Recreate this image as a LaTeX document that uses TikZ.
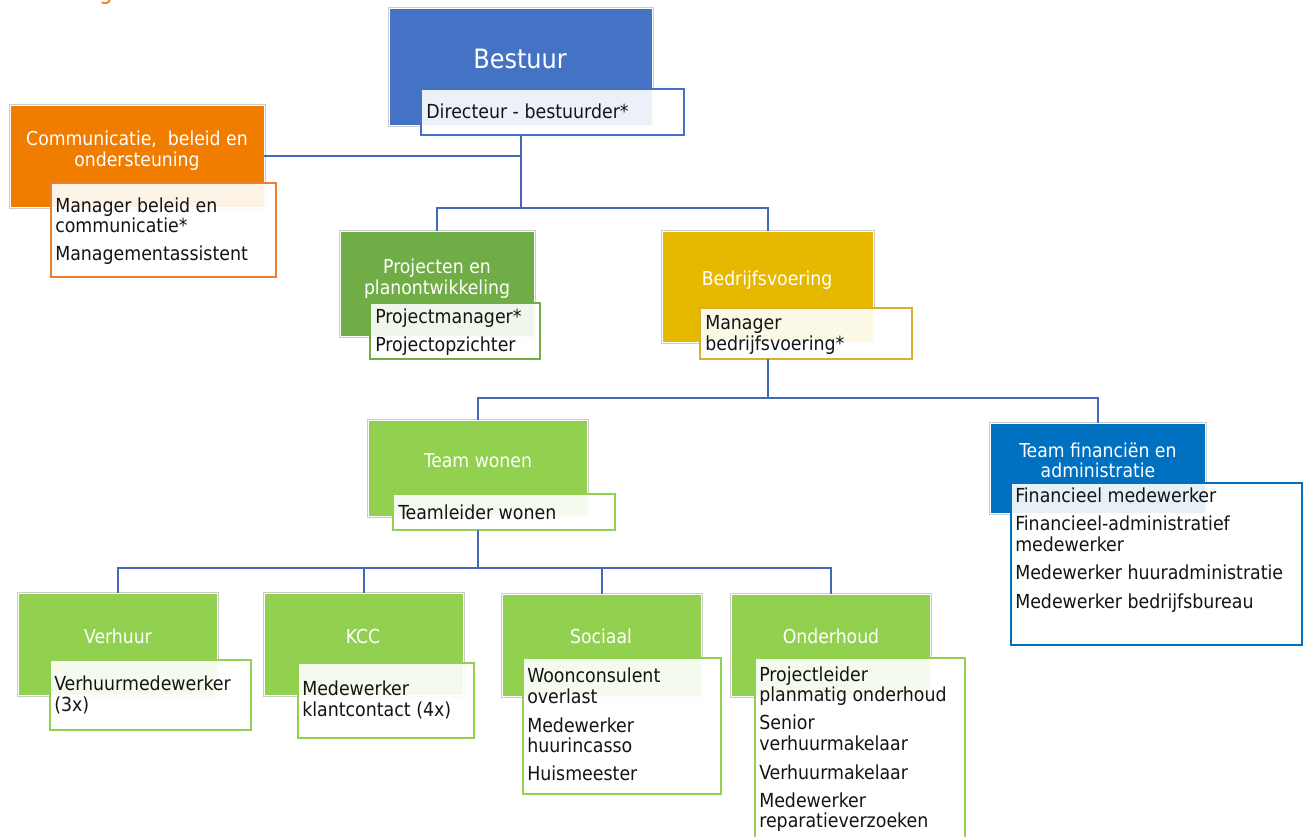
\documentclass[tikz,border=0pt]{standalone}
\usepackage{fontspec}
\setmainfont{DejaVu Sans Condensed}
\usetikzlibrary{fit}
\definecolor{cblue}{HTML}{4472C4}
\definecolor{cline}{HTML}{4169B8}
\definecolor{corange}{HTML}{F07C00}
\definecolor{corangeline}{HTML}{ED7D31}
\definecolor{cgreen}{HTML}{70AD47}
\definecolor{cyellow}{HTML}{E6B800}
\definecolor{cyellowline}{HTML}{D6B032}
\definecolor{clgreen}{HTML}{92D050}
\definecolor{cfin}{HTML}{0070C0}
\definecolor{ctext}{HTML}{141414}
\definecolor{ctitle}{HTML}{EB7A1E}
\begin{document}
\begin{tikzpicture}[x=0.75pt,y=-0.75pt,
  mainbox/.style={fill=#1, inner sep=0pt, outer sep=0pt, draw=white, line width=0.75pt,
    preaction={draw=black!20, line width=2.25pt}},
  subbox/.style={draw=#1, fill=white, fill opacity=0.9, line width=1.5pt, inner sep=0pt, outer sep=0pt},
  head/.style={text=white, font=\fontsize{14.4pt}{16pt}\selectfont, inner sep=0pt, anchor=base},
  bighead/.style={text=white, font=\fontsize{20pt}{22pt}\selectfont, inner sep=0pt, anchor=base},
  item/.style={text=ctext, font=\fontsize{14.5pt}{16pt}\selectfont, inner sep=0pt, anchor=base west},
  conn/.style={draw=cline, line width=1.5pt}]
\useasboundingbox (0,0) rectangle (1307,836);

% cut-off title fragment
\node[text=ctitle, font=\fontsize{18pt}{20pt}\selectfont, anchor=base, inner sep=0pt] (title) at (106,-1) {g};

% Bestuur
\node[mainbox=cblue, fit={(389,8)(652,125)}] (bestuur) {};
\node[subbox=cblue, fit={(421,89)(684,135)}] (dir) {};
\node[bighead] (tbestuur) at (520,68) {Bestuur};
\node[item] (tdir) at (426,118) {Directeur - bestuurder*};

% Communicatie
\node[mainbox=corange, fit={(10,105)(264,207)}] (comm) {};
\node[subbox=corangeline, fit={(51,183)(276,277)}] (commsub) {};
\node[head] (tcomm1) at (137,145) {Communicatie, \ beleid en};
\node[head] (tcomm2) at (137,166) {ondersteuning};
\node[item] (icomm1) at (55,212) {Manager beleid en};
\node[item] (icomm2) at (55,232) {communicatie*};
\node[item] (icomm3) at (55,260) {Managementassistent};

% Projecten
\node[mainbox=cgreen, fit={(340,231)(534,336)}] (proj) {};
\node[subbox=cgreen, fit={(370,303)(540,359)}] (projsub) {};
\node[head] (tproj1) at (437,273) {Projecten en};
\node[head] (tproj2) at (437,294) {planontwikkeling};
\node[item] (iproj1) at (375,323) {Projectmanager*};
\node[item] (iproj2) at (375,351) {Projectopzichter};

% Bedrijfsvoering
\node[mainbox=cyellow, fit={(662,231)(873,342)}] (bedr) {};
\node[subbox=cyellowline, fit={(700,308)(912,359)}] (bedrsub) {};
\node[head] (tbedr) at (767,285) {Bedrijfsvoering};
\node[item] (ibedr1) at (705,329) {Manager};
\node[item] (ibedr2) at (705,350) {bedrijfsvoering*};

% Team wonen
\node[mainbox=clgreen, fit={(368,420)(587,516)}] (wonen) {};
\node[subbox=clgreen, fit={(393,494)(615,530)}] (wonensub) {};
\node[head] (twonen) at (478,467) {Team wonen};
\node[item] (iwonen) at (398,519) {Teamleider wonen};

% Team financien
\node[mainbox=cfin, fit={(990,423)(1205,513)}] (fin) {};
\node[subbox=cfin, fit={(1011,483)(1302,645)}] (finsub) {};
\node[head] (tfin1) at (1098,457) {Team financiën en};
\node[head] (tfin2) at (1098,477) {administratie};
\node[item] (ifin1) at (1015,502) {Financieel medewerker};
\node[item] (ifin2) at (1015,530) {Financieel-administratief};
\node[item] (ifin3) at (1015,551) {medewerker};
\node[item] (ifin4) at (1015,579) {Medewerker huuradministratie};
\node[item] (ifin5) at (1015,608) {Medewerker bedrijfsbureau};

% Verhuur
\node[mainbox=clgreen, fit={(18,593)(217,695)}] (verhuur) {};
\node[subbox=clgreen, fit={(50,660)(251,730)}] (verhuursub) {};
\node[head] (tverhuur) at (118,643) {Verhuur};
\node[item] (iverhuur1) at (54,690) {Verhuurmedewerker};
\node[item] (iverhuur2) at (54,711) {(3x)};

% KCC
\node[mainbox=clgreen, fit={(264,593)(463,695)}] (kcc) {};
\node[subbox=clgreen, fit={(298,663)(474,738)}] (kccsub) {};
\node[head] (tkcc) at (363,643) {KCC};
\node[item] (ikcc1) at (302,695) {Medewerker};
\node[item] (ikcc2) at (302,716) {klantcontact (4x)};

% Sociaal
\node[mainbox=clgreen, fit={(502,594)(701,696)}] (sociaal) {};
\node[subbox=clgreen, fit={(523,658)(721,794)}] (sociaalsub) {};
\node[head] (tsociaal) at (601,643) {Sociaal};
\node[item] (isoc1) at (527,682) {Woonconsulent};
\node[item] (isoc2) at (527,703) {overlast};
\node[item] (isoc3) at (527,732) {Medewerker};
\node[item] (isoc4) at (527,752) {huurincasso};
\node[item] (isoc5) at (527,780) {Huismeester};

% Onderhoud
\node[mainbox=clgreen, fit={(731,594)(930,696)}] (onder) {};
\node[subbox=clgreen, fit={(755,658)(965,850)}] (ondersub) {};
\node[head] (tonder) at (831,643) {Onderhoud};
\node[item] (iond1) at (759,681) {Projectleider};
\node[item] (iond2) at (759,701) {planmatig onderhoud};
\node[item] (iond3) at (759,729) {Senior};
\node[item] (iond4) at (759,750) {verhuurmakelaar};
\node[item] (iond5) at (759,779) {Verhuurmakelaar};
\node[item] (iond6) at (759,807) {Medewerker};
\node[item] (iond7) at (759,827) {reparatieverzoeken};

% connector levels
\coordinate (h2) at (0,208);
\coordinate (h3) at (0,398);
\coordinate (h4) at (0,568);
\coordinate (j1) at (bestuur.south |- comm.east);

\draw[conn] (bestuur.south |- dir.south) -- (j1) -- (comm.east);
\draw[conn] (j1) -- (bestuur.south |- h2);
\draw[conn] (proj.north) -- (proj.north |- h2) -- (bedr.north |- h2) -- (bedr.north);

\draw[conn] (bedr.south |- bedrsub.south) -- (bedr.south |- h3);
\draw[conn] (wonen.north) -- (wonen.north |- h3) -- (fin.north |- h3) -- (fin.north);

\draw[conn] (wonen.south |- wonensub.south) -- (wonen.south |- h4);
\draw[conn] (verhuur.north) -- (verhuur.north |- h4) -- (onder.north |- h4) -- (onder.north);
\draw[conn] (kcc.north) -- (kcc.north |- h4);
\draw[conn] (sociaal.north) -- (sociaal.north |- h4);
\end{tikzpicture}
\end{document}
